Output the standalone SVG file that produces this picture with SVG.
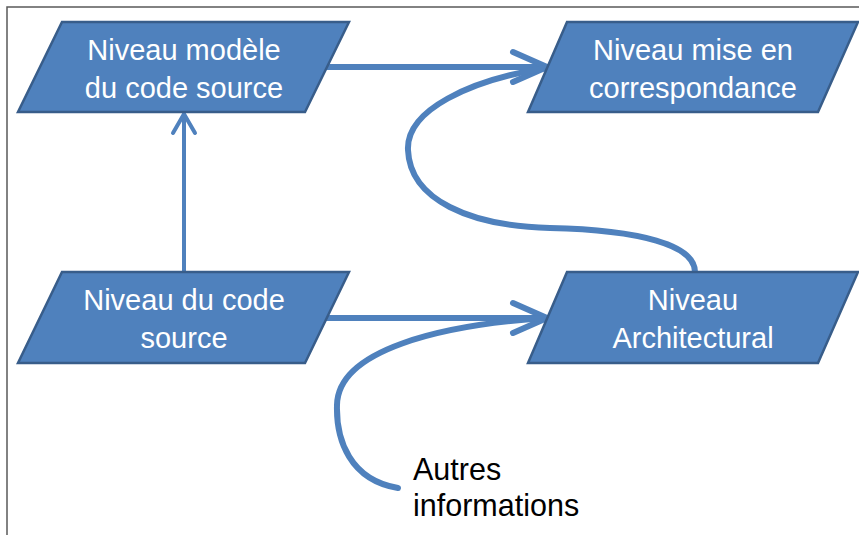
<svg xmlns="http://www.w3.org/2000/svg" width="859" height="535" viewBox="0 0 859 535">
<defs>
<style>
.node{fill:#4F81BD;stroke:#385D8A;stroke-width:2.5;stroke-linejoin:miter}
.lbl{font-family:"Liberation Sans",Arial,sans-serif;font-size:29px;fill:#FFFFFF;text-anchor:middle}
.txt{font-family:"Liberation Sans",Arial,sans-serif;font-size:30.5px;fill:#000000}
.conn{fill:none;stroke:#4F81BD;stroke-width:6;stroke-linecap:round;stroke-linejoin:round}
.thin{fill:none;stroke:#4F81BD;stroke-width:4;stroke-linecap:round;stroke-linejoin:round}
.frame{fill:none;stroke:#5A5A5A;stroke-width:1.5}
</style>
</defs>
<rect width="859" height="535" fill="#FFFFFF"/>
<path class="frame" d="M7 535 V7 H859"/>
<g id="connectors">
<path class="conn" d="M305 67 H546"/>
<path class="conn" d="M513 52 L547 67 L513 82"/>
<path class="conn" d="M305 318 H546"/>
<path class="conn" d="M513 303 L547 318 L513 333"/>
<path class="conn" d="M695 272 C695 245 640 230 550 228 C470 226 410 200 408 150 C406 110 470 80 546 68"/>
<path class="conn" d="M398 488 C350 480 336 440 337 405 C338 350 440 325 546 318"/>
<path class="thin" d="M184 272 V115"/>
<path class="thin" d="M173 133 L184 114 L195 133"/>
</g>
<g id="node-modele">
<polygon class="node" points="62,22 349,22 305,112 18,112"/>
<text class="lbl" x="184" y="60">Niveau modèle</text>
<text class="lbl" x="184" y="98">du code source</text>
</g>
<g id="node-correspondance">
<polygon class="node" points="567,22 858,22 818,112 528,112"/>
<text class="lbl" x="693" y="60">Niveau mise en</text>
<text class="lbl" x="693" y="98">correspondance</text>
</g>
<g id="node-code">
<polygon class="node" points="62,272 349,272 305,363 18,363"/>
<text class="lbl" x="184" y="310">Niveau du code</text>
<text class="lbl" x="184" y="348">source</text>
</g>
<g id="node-architectural">
<polygon class="node" points="567,272 858,272 818,363 528,363"/>
<text class="lbl" x="693" y="310">Niveau</text>
<text class="lbl" x="693" y="348">Architectural</text>
</g>
<g id="node-autres">
<text class="txt" x="413" y="480">Autres</text>
<text class="txt" x="413" y="516">informations</text>
</g>
</svg>
